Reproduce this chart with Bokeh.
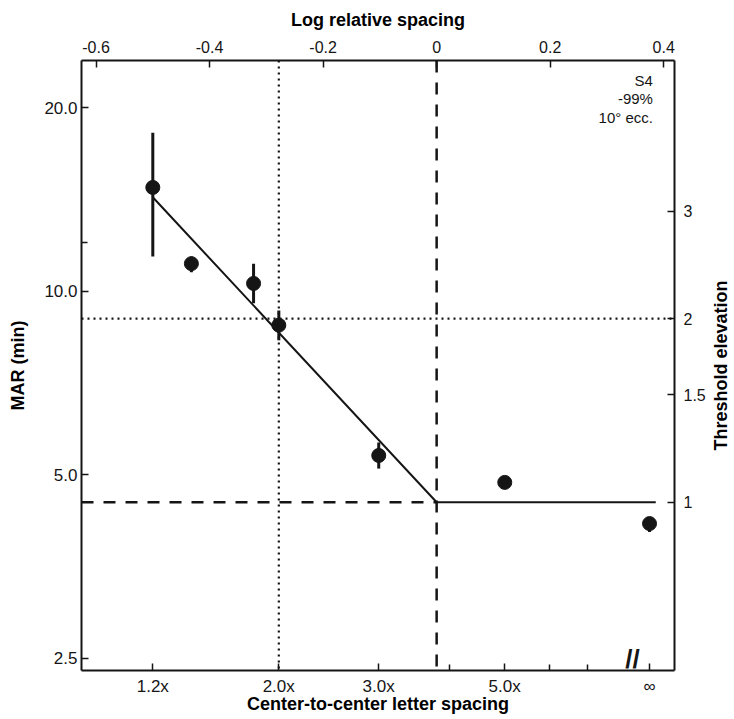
import numpy as np
from bokeh.plotting import figure
from bokeh.layouts import row
from bokeh.models import (Range1d, LinearAxis, LogAxis, FixedTicker, Span, Label,
                          LogScale, ColumnDataSource)
from bokeh.embed import file_html
from bokeh.resources import INLINE

# ---------------- data ----------------
spacing_tick_values = [1.2, 2.0, 3.0, 5.0]
spacing_tick_labels = ["1.2x", "2.0x", "3.0x", "5.0x"]
spacing_minor_values = [4.0, 6.0, 7.0]
critical_spacing = 3.795          # spacing at log relative spacing = 0
unflanked_position = 0.375        # log relative position used for the unflanked (∞) condition
unflanked_label = "∞"

top_ticks = [-0.6, -0.4, -0.2, 0.0, 0.2, 0.4]
top_labels = ["-0.6", "-0.4", "-0.2", "0", "0.2", "0.4"]

mar_ticks = [2.5, 5.0, 10.0, 20.0]
mar_labels = ["2.5", "5.0", "10.0", "20.0"]
mar_minor = [12.0]

elev_ticks = [1.0, 1.5, 2.0, 3.0]
elev_labels = ["1", "1.5", "2", "3"]

# measured points (log relative spacing, MAR in min)
pt_logrel = [-0.5, -0.432, -0.3225, -0.278, -0.102, 0.12, 0.375]
pt_mar = [14.8, 11.1, 10.3, 8.8, 5.38, 4.86, 4.16]
pt_mar_hi = [18.2, 11.4, 11.1, 9.3, 5.65, 4.92, 4.24]
pt_mar_lo = [11.4, 10.75, 9.56, 8.31, 5.12, 4.80, 4.03]

# bilinear fit
fit_logrel = [-0.5, 0.0, 0.386]
fit_mar = [14.26, 4.51, 4.51]
unflanked_mar = 4.51
criterion_elev = 2.0
criterion_logrel = -0.278

annot_lines = ["S4", "-99%", "10° ecc."]
right_title = "Threshold elevation"

# ranges
x_lo, x_hi = -0.6256, 0.419
y_lo, y_hi = 2.389, 23.9

FONT = "Liberation Sans"
INK = "#151515"

p = figure(frame_width=593, frame_height=610,
           x_range=Range1d(x_lo, x_hi), y_range=Range1d(y_lo, y_hi),
           x_axis_type=None, y_axis_type="log",
           output_backend="svg", toolbar_location=None,
           min_border_left=81, min_border_top=60, min_border_right=34, min_border_bottom=48)
p.ygrid.visible = False
p.outline_line_color = None
p.background_fill_color = "white"

p.extra_y_ranges = {"thr": Range1d(y_lo / unflanked_mar, y_hi / unflanked_mar)}
p.extra_y_scales = {"thr": LogScale()}


def style(ax, size):
    ax.axis_line_width = 2
    ax.axis_line_color = INK
    ax.major_tick_in = 7
    ax.major_tick_out = 0
    ax.minor_tick_in = 6
    ax.minor_tick_out = 0
    ax.major_tick_line_width = 1.5
    ax.minor_tick_line_width = 1.5
    ax.major_tick_line_color = INK
    ax.minor_tick_line_color = INK
    ax.major_label_text_font = FONT
    ax.major_label_text_font_size = size
    ax.major_label_text_color = INK
    ax.axis_label_text_font = FONT
    ax.axis_label_text_font_style = "bold"
    ax.axis_label_text_font_size = "18px"
    ax.axis_label_text_color = "black"


# left axis (MAR)
left = p.yaxis[0]
left.ticker = FixedTicker(ticks=mar_ticks, minor_ticks=mar_minor)
left.major_label_overrides = {t: l for t, l in zip(mar_ticks, mar_labels)}
left.axis_label = "MAR (min)"
style(left, "17px")
left.major_label_standoff = 4
left.axis_label_standoff = 13

# bottom axis (center-to-center spacing)
bt = [float(np.log10(s / critical_spacing)) for s in spacing_tick_values] + [unflanked_position]
bl = spacing_tick_labels + [unflanked_label]
bm = [float(np.log10(s / critical_spacing)) for s in spacing_minor_values]
bottom = LinearAxis(ticker=FixedTicker(ticks=bt, minor_ticks=bm),
                    major_label_overrides={t: l for t, l in zip(bt, bl)},
                    axis_label="Center-to-center letter spacing")
style(bottom, "17px")
bottom.major_label_standoff = 6
bottom.axis_label_standoff = -5
p.add_layout(bottom, "below")

# top axis (log relative spacing)
top = LinearAxis(ticker=FixedTicker(ticks=top_ticks, minor_ticks=[]),
                 major_label_overrides={t: l for t, l in zip(top_ticks, top_labels)},
                 axis_label="Log relative spacing")
style(top, "16px")
top.major_label_standoff = 8
top.axis_label_standoff = 8
p.add_layout(top, "above")

# right axis (threshold elevation); its title sits in a narrow side panel
right = LogAxis(y_range_name="thr", ticker=FixedTicker(ticks=elev_ticks, minor_ticks=[]),
                major_label_overrides={t: l for t, l in zip(elev_ticks, elev_labels)})
style(right, "16px")
right.major_label_standoff = 9
p.add_layout(right, "right")

# reference lines
p.add_layout(Span(location=0.0, dimension="height", line_color=INK,
                  line_width=2.5, line_dash="12 10"))
p.add_layout(Span(location=criterion_logrel, dimension="height", line_color=INK,
                  line_width=2.2, line_dash="2 4"))
p.add_layout(Span(location=criterion_elev, dimension="width", y_range_name="thr",
                  line_color=INK, line_width=2.2, line_dash="2 4"))
p.line([x_lo, 0.0], [unflanked_mar, unflanked_mar], line_color=INK,
       line_width=2.5, line_dash="12 10")

# fit
p.line(fit_logrel, fit_mar, line_color=INK, line_width=2)

# data
src = ColumnDataSource(dict(x=pt_logrel, y=pt_mar, lo=pt_mar_lo, hi=pt_mar_hi))
p.segment(x0="x", y0="lo", x1="x", y1="hi", source=src, line_color=INK, line_width=3)
p.scatter(x="x", y="y", source=src, size=14, fill_color=INK, line_color=INK)

# annotation text
for i, t in enumerate(annot_lines):
    p.add_layout(Label(x=0.381, y=22.2, y_offset=-18.5 * i, text=t,
                       text_align="right", text_baseline="middle",
                       text_font=FONT, text_font_size="15px", text_color=INK))

# axis break mark (kept inside the plot frame)
p.add_layout(Label(x=unflanked_position, y=y_lo, x_offset=-17, y_offset=-3, text="//",
                   text_align="center", text_baseline="bottom",
                   text_font=FONT, text_font_style="bold", text_font_size="26px",
                   text_color=INK))

# side panel holding the right-hand axis title, reading bottom-to-top
p2 = figure(frame_width=24, frame_height=610, x_range=Range1d(0, 1), y_range=Range1d(0, 1),
            x_axis_type=None, y_axis_type=None, output_backend="svg", toolbar_location=None,
            min_border_left=0, min_border_right=0, min_border_top=60, min_border_bottom=48)
p2.outline_line_color = None
p2.grid.visible = False
p2.add_layout(Label(x=0.5, y=0.5, text=right_title, angle=np.pi / 2,
                    text_align="center", text_baseline="middle",
                    text_font=FONT, text_font_style="bold", text_font_size="18px",
                    text_color="black"))

layout = row(p, p2, spacing=0)
open("out.html", "w").write(file_html(layout, INLINE))
